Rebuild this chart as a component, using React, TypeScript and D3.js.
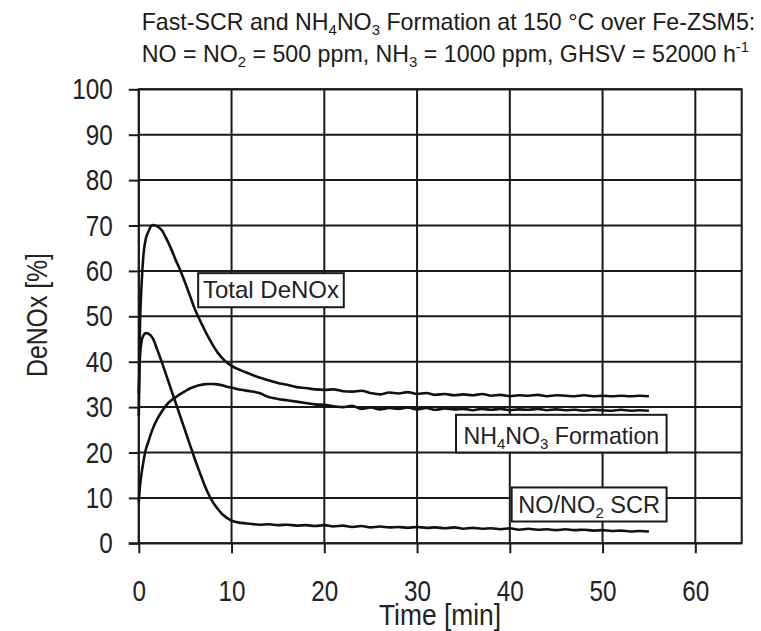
import * as d3 from "d3";
import { useEffect, useRef } from "react";

// time axis shared by all three curves (min)
const timeMin = [
  0, 0.1, 0.3, 0.5, 0.75, 1, 1.5, 2, 2.5, 3, 3.5, 4, 4.5, 5, 5.5, 6, 6.5, 7, 7.5, 8, 8.5, 9, 9.5, 10,
  11, 12, 13, 14, 15, 16, 17, 18, 19, 20, 21, 22, 23, 24, 25, 26, 27, 28, 29, 30,
  31, 32, 33, 34, 35, 36, 37, 38, 39, 40, 41, 42, 43, 44, 45, 46, 47, 48, 49, 50,
  51, 52, 53, 54, 55,
];

const totalDeNOx = [
  28, 45, 57, 63.5, 67, 68.5, 70.1, 69.8, 68.9, 67, 64.8, 62.3, 60, 57.4, 54.6, 51.8, 49.5, 47.4, 45.4, 43.6, 42, 40.8, 39.8, 39.1,
  38.1, 37.3, 36.5, 35.9, 35.3, 34.9, 34.4, 34.2, 33.9, 33.8, 33.9, 33.5, 33.4, 33.6, 33.1, 32.8, 33.2, 33.0, 33.3, 32.9,
  33.1, 32.7, 32.9, 32.6, 32.8, 32.6, 32.9, 32.5, 32.7, 32.4, 32.6, 32.5, 32.7, 32.4, 32.6, 32.5, 32.4, 32.6, 32.4, 32.5,
  32.4, 32.5, 32.4, 32.5, 32.4,
];

const nh4no3Formation = [
  9, 12, 15.4, 18, 20.6, 22.2, 25.2, 27.4, 29.1, 30.5, 31.5, 32.2, 32.9, 33.5, 34.1, 34.5, 34.8, 35.0, 35.1, 35.1, 35.0, 34.8, 34.5, 34.3,
  33.8, 33.5, 33.1, 32.2, 31.8, 31.5, 31.2, 30.9, 30.6, 30.5, 30.2, 30.0, 30.3, 29.6, 29.9, 29.5, 29.8, 29.6, 29.9, 29.5,
  29.8, 29.4, 29.7, 29.5, 29.6, 29.3, 29.6, 29.4, 29.6, 29.3, 29.5, 29.4, 29.6, 29.3, 29.5, 29.3, 29.4, 29.2, 29.4, 29.3,
  29.2, 29.4, 29.2, 29.3, 29.2,
];

const noNo2Scr = [
  33, 40, 44.5, 45.8, 46.3, 46.2, 45.2, 42.6, 39.8, 36.8, 33.8, 30.8, 27.8, 24.8, 21.8, 18.8, 16, 13.3, 10.9, 9, 7.6, 6.4, 5.6, 5.0,
  4.5, 4.3, 4.1, 4.2, 4.0, 4.1, 3.9, 4.0, 3.8, 4.0, 3.7, 3.9, 3.6, 3.8, 3.5, 3.7, 3.5, 3.6, 3.4, 3.6,
  3.4, 3.5, 3.3, 3.5, 3.2, 3.4, 3.2, 3.3, 3.1, 3.3, 3.0, 3.2, 3.0, 3.1, 2.9, 3.1, 2.9, 3.0, 2.8, 2.9,
  2.7, 2.8, 2.6, 2.7, 2.6,
];

const xTicks = [0, 10, 20, 30, 40, 50, 60];
const yTicks = [0, 10, 20, 30, 40, 50, 60, 70, 80, 90, 100];

// label boxes: [t0, t1] x [v0, v1] in data units
const labelBoxes = [
  { key: "total", t: [6.4, 22.1], v: [59.5, 52.0], size: 24, parts: [["Total DeNOx", ""]] },
  { key: "nh4", t: [34.2, 56.9], v: [28.3, 20.0], size: 23.2, parts: [["NH", ""], ["4", "sub"], ["NO", ""], ["3", "sub"], [" Formation", ""]] },
  { key: "scr", t: [40.2, 56.9], v: [12.3, 4.8], size: 23.5, parts: [["NO/NO", ""], ["2", "sub"], [" SCR", ""]] },
];

const W = 761;
const H = 631;
const FONT = "'Liberation Sans', Arial, sans-serif";
const INK = "#1a1a1a";

const App = () => {
  const axRef = useRef<SVGGElement>(null);

  const x = d3.scaleLinear().domain([0, 65]).range([138.8, 741.7]);
  const y = d3.scaleLinear().domain([0, 100]).range([543.3, 89.3]);

  const line = d3
    .line<number>()
    .x((_, i) => x(timeMin[i]))
    .y((d) => y(d))
    .curve(d3.curveMonotoneX);

  useEffect(() => {
    if (!axRef.current) return;
    const g = d3.select(axRef.current);
    g.selectAll("*").remove();

    // grid
    g.append("g")
      .selectAll("line")
      .data(xTicks)
      .enter()
      .append("line")
      .attr("x1", (d) => x(d))
      .attr("x2", (d) => x(d))
      .attr("y1", y(100))
      .attr("y2", y(0))
      .attr("stroke", INK)
      .attr("stroke-width", 2);
    g.append("g")
      .selectAll("line")
      .data(yTicks)
      .enter()
      .append("line")
      .attr("x1", x(0))
      .attr("x2", x(65))
      .attr("y1", (d) => y(d))
      .attr("y2", (d) => y(d))
      .attr("stroke", INK)
      .attr("stroke-width", 2);
    g.append("rect")
      .attr("x", x(0))
      .attr("y", y(100))
      .attr("width", x(65) - x(0))
      .attr("height", y(0) - y(100))
      .attr("fill", "none")
      .attr("stroke", INK)
      .attr("stroke-width", 2);

    // axes
    const xAxis = d3.axisBottom(x).tickValues(xTicks).tickSize(10).tickPadding(26).tickFormat(d3.format("d"));
    const gx = g.append("g").attr("transform", `translate(0, ${y(0)})`).call(xAxis);
    const yAxis = d3.axisLeft(y).tickValues(yTicks).tickSize(10).tickPadding(16).tickFormat(d3.format("d"));
    const gy = g.append("g").attr("transform", `translate(${x(0)}, 0)`).call(yAxis);
    [gx, gy].forEach((a) => {
      a.select(".domain").remove();
      a.selectAll("line").attr("stroke", INK).attr("stroke-width", 2);
      a.selectAll<SVGTextElement, number>("text")
        .attr("font-family", FONT)
        .attr("font-size", 30)
        .attr("fill", "#222")
        .attr("textLength", (d) => String(d).length * 13.5)
        .attr("lengthAdjust", "spacingAndGlyphs");
    });
    // x-axis line extends left to tick length
    g.append("line")
      .attr("x1", x(0) - 10)
      .attr("x2", x(0))
      .attr("y1", y(0))
      .attr("y2", y(0))
      .attr("stroke", INK)
      .attr("stroke-width", 2);
  }, []);

  const series = [totalDeNOx, nh4no3Formation, noNo2Scr];

  return (
    <svg width={W} height={H} style={{ position: "absolute", left: 0, top: 0, background: "#fff" }}>
      <g ref={axRef} />
      {series.map((s, i) => (
        <path key={i} d={line(s) ?? ""} fill="none" stroke="#111" strokeWidth={2.6} strokeLinejoin="round" />
      ))}
      {labelBoxes.map((b) => (
        <g key={b.key}>
          <rect
            x={x(b.t[0])}
            y={y(b.v[0])}
            width={x(b.t[1]) - x(b.t[0])}
            height={y(b.v[1]) - y(b.v[0])}
            fill="#fff"
            stroke={INK}
            strokeWidth={2}
          />
          <text
            x={(x(b.t[0]) + x(b.t[1])) / 2}
            y={y(b.v[1]) - 9}
            textAnchor="middle"
            fontFamily={FONT}
            fontSize={b.size}
            fill="#222"
          >
            {b.parts.map(([txt, kind], j) =>
              kind === "sub" ? (
                <tspan key={j} fontSize={15} dy={5}>
                  {txt}
                </tspan>
              ) : (
                <tspan key={j} dy={j > 0 && b.parts[j - 1][1] === "sub" ? -5 : 0}>
                  {txt}
                </tspan>
              )
            )}
          </text>
        </g>
      ))}
      <text x={141.7} y={29.5} fontFamily={FONT} fontSize={23.2} fill={INK}>
        Fast-SCR and NH<tspan fontSize={15} dy={5}>4</tspan>
        <tspan dy={-5}>NO</tspan>
        <tspan fontSize={15} dy={5}>3</tspan>
        <tspan dy={-5}> Formation at 150 °C over Fe-ZSM5:</tspan>
      </text>
      <text x={141.7} y={62} fontFamily={FONT} fontSize={23.2} fill={INK}>
        NO = NO<tspan fontSize={15} dy={5}>2</tspan>
        <tspan dy={-5}> = 500 ppm, NH</tspan>
        <tspan fontSize={15} dy={5}>3</tspan>
        <tspan dy={-5}> = 1000 ppm, GHSV = 52000 h</tspan>
        <tspan fontSize={15} dy={-10}>-1</tspan>
      </text>
      <text
        transform="translate(47, 315) rotate(-90)"
        x={-62}
        textLength={124}
        lengthAdjust="spacingAndGlyphs"
        fontFamily={FONT}
        fontSize={29}
        fill="#222"
      >
        DeNOx [%]
      </text>
      <text x={379} y={625} textLength={122} lengthAdjust="spacingAndGlyphs" fontFamily={FONT} fontSize={30} fill="#222">
        Time [min]
      </text>
    </svg>
  );
};

export default App;
